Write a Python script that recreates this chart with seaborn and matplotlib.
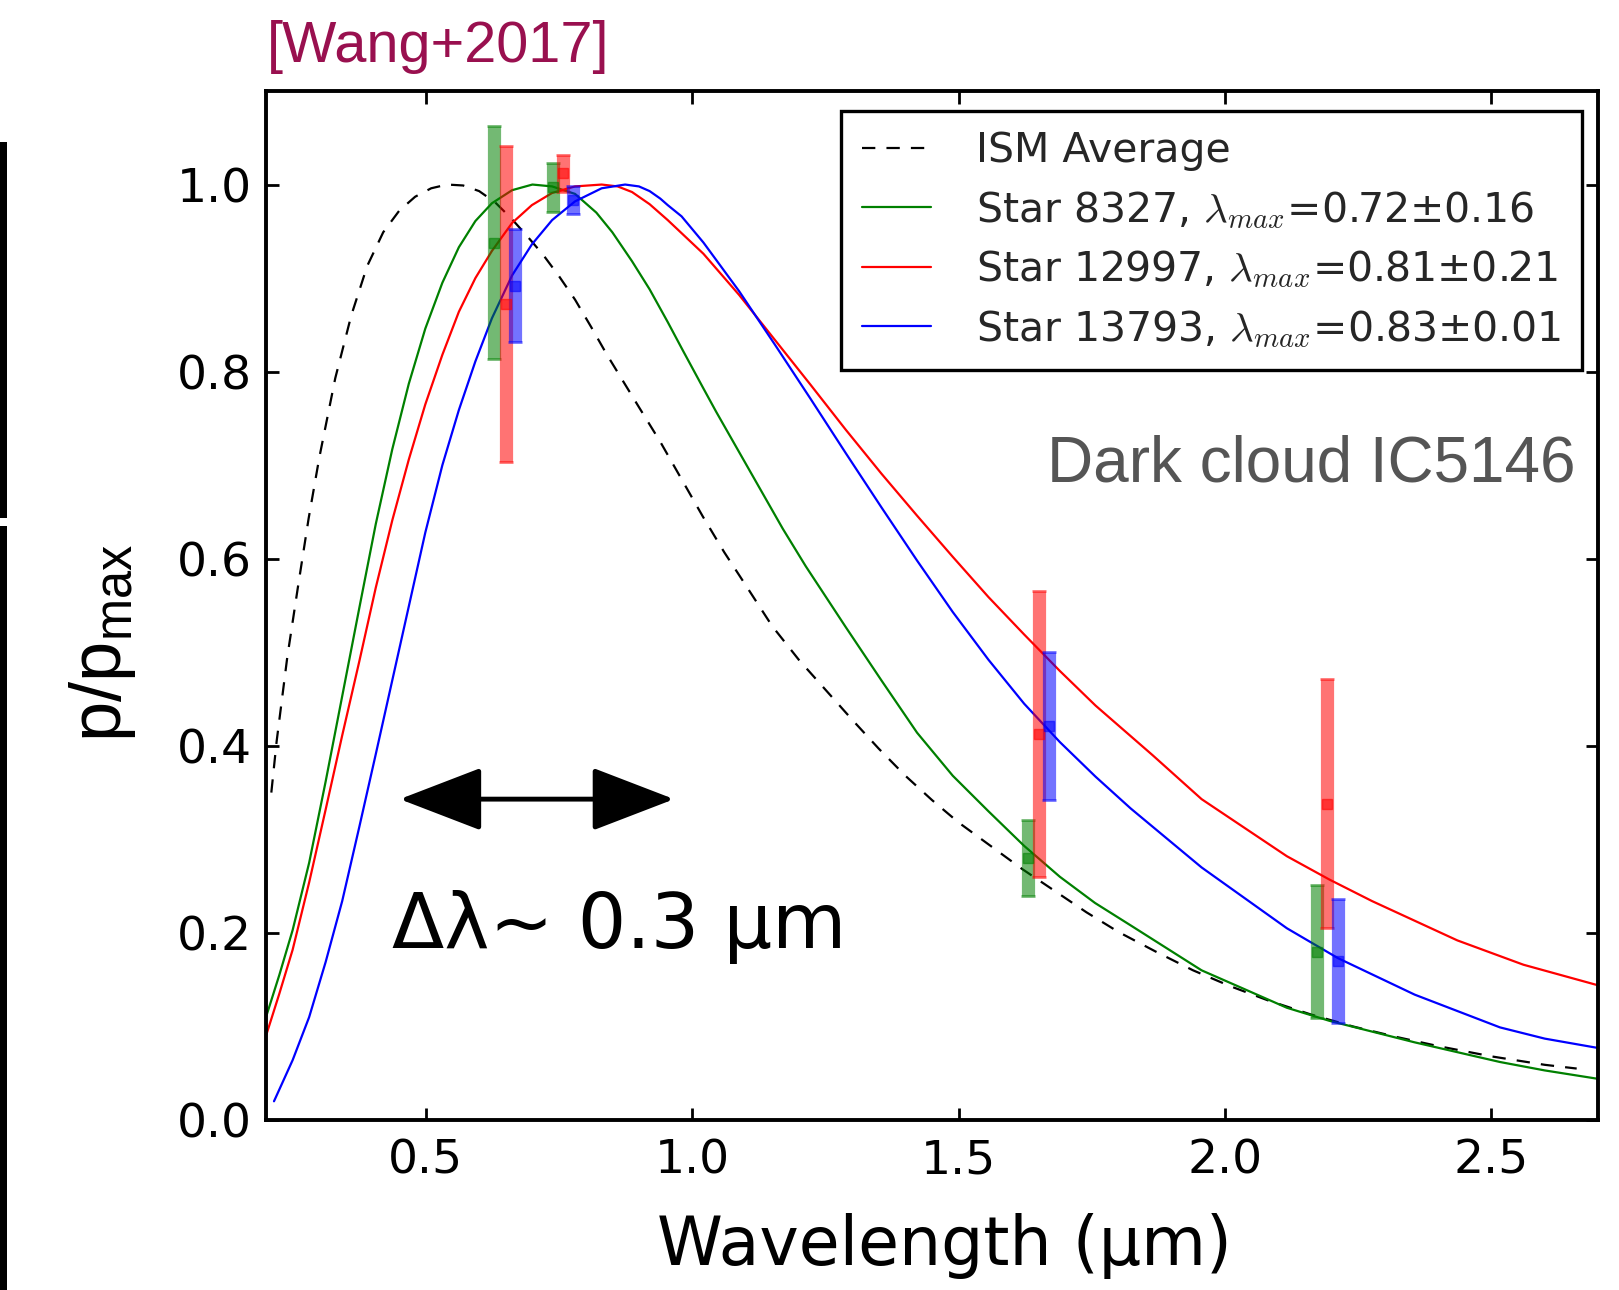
import matplotlib
matplotlib.use("Agg")
import matplotlib.pyplot as plt
from matplotlib.patches import Rectangle
import seaborn as sns
import pandas as pd

# ---- polarization curves p/pmax versus wavelength (um) ----
ism_wl = [0.21, 0.22, 0.24, 0.26, 0.28, 0.30, 0.33, 0.36, 0.39, 0.42, 0.45, 0.48,
          0.51, 0.54, 0.57, 0.60, 0.63, 0.66, 0.69, 0.72, 0.75, 0.78, 0.81, 0.84,
          0.87, 0.90, 0.94, 0.98, 1.02, 1.06, 1.10, 1.15, 1.20, 1.25, 1.30, 1.35,
          1.40, 1.45, 1.50, 1.56, 1.62, 1.68, 1.74, 1.80, 1.87, 1.94, 2.01, 2.08,
          2.16, 2.24, 2.32, 2.40, 2.50, 2.60, 2.66]
ism_p = [0.35, 0.405, 0.495, 0.57, 0.643, 0.708, 0.793, 0.86, 0.913, 0.949, 0.972, 0.987,
         0.996, 1.0, 0.999, 0.993, 0.981, 0.964, 0.945, 0.925, 0.902, 0.877, 0.848, 0.818,
         0.79, 0.762, 0.725, 0.685, 0.645, 0.607, 0.572, 0.528, 0.492, 0.46, 0.428, 0.397,
         0.368, 0.342, 0.318, 0.293, 0.268, 0.245, 0.222, 0.201, 0.18, 0.16, 0.143, 0.128,
         0.113, 0.10, 0.089, 0.079, 0.068, 0.059, 0.055]

green_wl = [0.20, 0.225, 0.25, 0.281, 0.312, 0.343, 0.375, 0.406, 0.437, 0.468, 0.499,
            0.531, 0.562, 0.593, 0.624, 0.662, 0.70, 0.737, 0.78, 0.82, 0.85, 0.887,
            0.92, 0.954, 0.983, 1.021, 1.045, 1.088, 1.107, 1.17, 1.213, 1.288, 1.355,
            1.422, 1.489, 1.556, 1.623, 1.69, 1.756, 1.823, 1.956, 2.116, 2.196, 2.356,
            2.516, 2.60, 2.70]
green_p = [0.11, 0.155, 0.203, 0.275, 0.362, 0.453, 0.547, 0.637, 0.717, 0.787, 0.846,
           0.895, 0.933, 0.961, 0.98, 0.994, 1.0, 0.998, 0.99, 0.97, 0.949, 0.918,
           0.888, 0.853, 0.822, 0.782, 0.757, 0.714, 0.695, 0.632, 0.592, 0.527, 0.47,
           0.414, 0.368, 0.33, 0.293, 0.26, 0.232, 0.208, 0.16, 0.12, 0.106, 0.083,
           0.062, 0.053, 0.044]

red_wl = [0.20, 0.225, 0.25, 0.281, 0.312, 0.343, 0.375, 0.406, 0.437, 0.468, 0.499,
          0.531, 0.562, 0.593, 0.624, 0.662, 0.699, 0.737, 0.78, 0.83, 0.86, 0.887,
          0.92, 0.954, 1.021, 1.088, 1.155, 1.222, 1.288, 1.355, 1.422, 1.489, 1.556,
          1.623, 1.69, 1.757, 1.864, 1.956, 2.116, 2.196, 2.276, 2.436, 2.56, 2.70]
red_p = [0.09, 0.135, 0.182, 0.254, 0.332, 0.411, 0.49, 0.569, 0.641, 0.706, 0.765,
         0.818, 0.864, 0.90, 0.929, 0.959, 0.978, 0.991, 0.998, 1.0, 0.998, 0.992,
         0.979, 0.962, 0.926, 0.882, 0.834, 0.786, 0.738, 0.691, 0.646, 0.602, 0.559,
         0.519, 0.48, 0.443, 0.39, 0.343, 0.282, 0.257, 0.234, 0.192, 0.166, 0.144]

blue_wl = [0.215, 0.25, 0.281, 0.312, 0.343, 0.375, 0.406, 0.437, 0.468, 0.499, 0.531,
           0.562, 0.593, 0.624, 0.662, 0.699, 0.737, 0.78, 0.83, 0.874, 0.90, 0.92,
           0.94, 0.954, 0.98, 1.021, 1.088, 1.155, 1.222, 1.288, 1.355, 1.422, 1.489,
           1.556, 1.623, 1.69, 1.757, 1.823, 1.956, 2.116, 2.212, 2.356, 2.516, 2.60, 2.70]
blue_p = [0.02, 0.064, 0.11, 0.169, 0.234, 0.313, 0.391, 0.47, 0.549, 0.628, 0.70,
          0.759, 0.811, 0.857, 0.903, 0.936, 0.962, 0.982, 0.996, 1.0, 0.998, 0.993,
          0.985, 0.978, 0.966, 0.938, 0.886, 0.829, 0.771, 0.713, 0.655, 0.598, 0.543,
          0.492, 0.445, 0.404, 0.367, 0.333, 0.27, 0.205, 0.173, 0.134, 0.099, 0.087, 0.077]

# ---- measured points with 1-sigma errors ----
green_obs_wl = [0.628, 0.738, 1.630, 2.172]
green_obs_p = [0.938, 0.997, 0.280, 0.180]
green_obs_err = [0.125, 0.026, 0.041, 0.071]

red_obs_wl = [0.650, 0.757, 1.650, 2.192]
red_obs_p = [0.872, 1.012, 0.413, 0.338]
red_obs_err = [0.169, 0.020, 0.153, 0.133]

blue_obs_wl = [0.668, 0.776, 1.670, 2.212]
blue_obs_p = [0.892, 0.983, 0.421, 0.170]
blue_obs_err = [0.060, 0.015, 0.079, 0.066]

series_labels = ["ISM Average",
                 "Star 8327, $\\lambda_{max}$=0.72±0.16",
                 "Star 12997, $\\lambda_{max}$=0.81±0.21",
                 "Star 13793, $\\lambda_{max}$=0.83±0.01"]

x_ticks = [0.5, 1.0, 1.5, 2.0, 2.5]
y_ticks = [0.0, 0.2, 0.4, 0.6, 0.8, 1.0]

# ---- style ----
sns.set_theme(style="ticks")
plt.rcParams["font.family"] = ["DejaVu Sans"]
plt.rcParams["mathtext.fontset"] = "custom"
plt.rcParams["mathtext.rm"] = "Liberation Sans"
plt.rcParams["mathtext.it"] = "Liberation Sans:italic"

W, H = 1619, 1290
fig = plt.figure(figsize=(W / 100, H / 100), dpi=100)
fig.patch.set_facecolor("white")
ax = fig.add_axes([266 / W, 1 - 1120 / H, 1332 / W, 1029 / H])
ax.set_facecolor("white")

curves = [
    (ism_wl, ism_p, "black", "--", series_labels[0]),
    (green_wl, green_p, "green", "-", series_labels[1]),
    (red_wl, red_p, "red", "-", series_labels[2]),
    (blue_wl, blue_p, "blue", "-", series_labels[3]),
]
for wl, p, col, ls, lab in curves:
    df = pd.DataFrame({"wl": wl, "p": p})
    sns.lineplot(data=df, x="wl", y="p", ax=ax, color=col, linestyle=ls,
                 linewidth=1.6, label=lab, estimator=None, sort=False)
ax.get_lines()[0].set_dashes([6, 5])

for wl, p, err, col in [(green_obs_wl, green_obs_p, green_obs_err, "green"),
                        (red_obs_wl, red_obs_p, red_obs_err, "red"),
                        (blue_obs_wl, blue_obs_p, blue_obs_err, "blue")]:
    ax.errorbar(wl, p, yerr=err, fmt="s", color=col, ms=6.5, elinewidth=9.5,
                capsize=5, capthick=2, alpha=0.55, zorder=3)

ax.set_xlim(0.2, 2.7)
ax.set_ylim(0.0, 1.1)
ax.set_xticks(x_ticks)
ax.set_yticks(y_ticks)
ax.set_xticklabels([f"{v:.1f}" for v in x_ticks])
ax.set_yticklabels([f"{v:.1f}" for v in y_ticks])
ax.tick_params(axis="both", which="major", direction="in", length=9, width=2,
               labelsize=34, top=True, right=True, color="black", labelcolor="black")
ax.tick_params(axis="x", pad=13)
ax.tick_params(axis="y", pad=10)
for sp in ax.spines.values():
    sp.set_linewidth(2.8)
    sp.set_color("black")

ax.set_xlabel("Wavelength (µm)", fontsize=48, color="black")
ax.xaxis.set_label_coords(0.509, -0.09)
ax.set_ylabel("")
fig.text(103 / W, 1 - 643 / H, "p/p$_{\\mathrm{max}}$", rotation=90, ha="center",
         va="center", fontsize=52, family="Liberation Sans", color="black",
         math_fontfamily="custom")

leg = ax.legend(loc="upper right", bbox_to_anchor=(0.988, 0.981), borderaxespad=0,
                fontsize=29.5, frameon=True, fancybox=False, edgecolor="black",
                handlelength=1.7, handletextpad=1.1, borderpad=0.5,
                labelspacing=0.43)
leg.get_frame().set_linewidth(2.4)
leg.get_frame().set_alpha(1)
for t in leg.get_texts():
    t.set_math_fontfamily("cm")

# annotations
ax.annotate("", xy=(0.451, 0.343), xytext=(0.966, 0.343),
            arrowprops=dict(arrowstyle="<|-|>,head_length=2.6,head_width=1.0",
                            color="black", lw=3.5, mutation_scale=20,
                            shrinkA=0, shrinkB=0))
ax.text(0.436, 0.184, "Δλ~ 0.3 µm", fontsize=55, family="DejaVu Sans",
        color="black", ha="left", va="baseline")
ax.text(1575 / W, 1 - 482 / H, "Dark cloud IC5146", transform=fig.transFigure,
        fontsize=46, family="Liberation Sans", color="#555555", ha="right",
        va="baseline")
fig.text(267 / W, 1 - 62 / H, "[Wang+2017]", fontsize=41.5, family="Liberation Sans",
         color="#99104f", ha="left", va="baseline")

# edge of the neighbouring panel
fig.add_artist(Rectangle((0, 0), 7 / W, 1 - 526 / H, transform=fig.transFigure,
                         facecolor="black", edgecolor="none"))
fig.add_artist(Rectangle((0, 1 - 518 / H), 7 / W, (518 - 142) / H,
                         transform=fig.transFigure, facecolor="black",
                         edgecolor="none"))

fig.savefig("out.png", dpi=100, facecolor="white")
